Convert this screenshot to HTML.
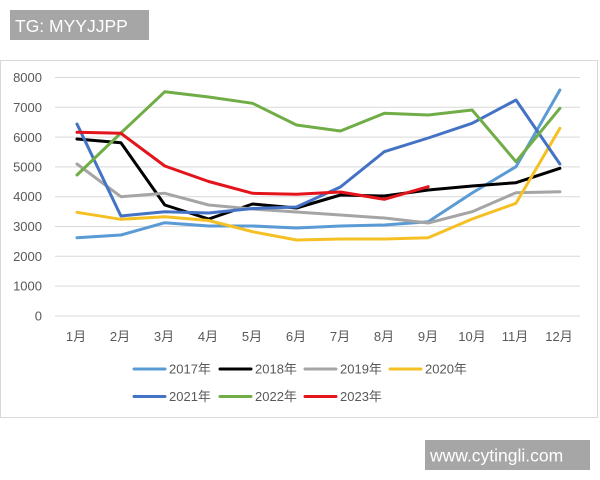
<!DOCTYPE html>
<html><head><meta charset="utf-8"><style>
html,body{margin:0;padding:0;background:#fff;width:600px;height:480px;overflow:hidden;}
svg{display:block;}
text{font-family:"Liberation Sans","Noto Sans CJK SC",sans-serif;}
</style></head><body>
<svg width="600" height="480" viewBox="0 0 600 480" xmlns="http://www.w3.org/2000/svg">
<rect x="0" y="0" width="600" height="480" fill="#fff"/>
<!-- top watermark -->
<rect x="10" y="10" width="139" height="30" fill="#a6a6a6"/>
<text x="15" y="32" font-size="17.5" fill="#fff">TG: MYYJJPP</text>
<!-- chart frame -->
<rect x="0.5" y="60.5" width="597" height="357" fill="#fff" stroke="#d9d9d9" stroke-width="1"/>
<!-- gridlines -->
<g stroke="#d9d9d9" stroke-width="1">
<line x1="55" x2="580" y1="77.5" y2="77.5"/>
<line x1="55" x2="580" y1="107.3" y2="107.3"/>
<line x1="55" x2="580" y1="137.1" y2="137.1"/>
<line x1="55" x2="580" y1="166.9" y2="166.9"/>
<line x1="55" x2="580" y1="196.7" y2="196.7"/>
<line x1="55" x2="580" y1="226.5" y2="226.5"/>
<line x1="55" x2="580" y1="256.3" y2="256.3"/>
<line x1="55" x2="580" y1="286.1" y2="286.1"/>
<line x1="55" x2="580" y1="316" y2="316"/>
</g>
<!-- y labels -->
<g font-size="13" fill="#595959" text-anchor="end">
<text x="42" y="82">8000</text>
<text x="42" y="112">7000</text>
<text x="42" y="142">6000</text>
<text x="42" y="171.5">5000</text>
<text x="42" y="201">4000</text>
<text x="42" y="231">3000</text>
<text x="42" y="261">2000</text>
<text x="42" y="290.5">1000</text>
<text x="42" y="320.5">0</text>
</g>
<!-- x labels -->
<g font-size="13" fill="#595959" text-anchor="middle">
<text x="76" y="341">1月</text>
<text x="120" y="341">2月</text>
<text x="164" y="341">3月</text>
<text x="208" y="341">4月</text>
<text x="252" y="341">5月</text>
<text x="296" y="341">6月</text>
<text x="340" y="341">7月</text>
<text x="384" y="341">8月</text>
<text x="428" y="341">9月</text>
<text x="472" y="341">10月</text>
<text x="515" y="341">11月</text>
<text x="559" y="341">12月</text>
</g>
<!-- series -->
<g fill="none" stroke-width="3" stroke-linejoin="round" stroke-linecap="round">
<polyline stroke="#5b9bd5" points="77,237.7 120.9,235 164.8,222.7 208.7,226 252.6,226 296.5,228 340.4,226 384.3,225 428.2,221.7 472.1,193 516,166.7 559.9,90"/>
<polyline stroke="#000000" points="77,139 120.9,142.7 164.8,205 208.7,219 252.6,204 296.5,208 340.4,195 384.3,196 428.2,190 472.1,186 516,182.7 559.9,168.3"/>
<polyline stroke="#a5a5a5" points="77,164 120.9,196.7 164.8,193.3 208.7,205 252.6,209 296.5,212 340.4,215 384.3,218 428.2,223 472.1,211.7 516,192.7 559.9,191.7"/>
<polyline stroke="#f5c023" points="77,212.3 120.9,219.3 164.8,216.7 208.7,220.5 252.6,231.7 296.5,240 340.4,239 384.3,239 428.2,237.7 472.1,219 516,203.3 559.9,128.3"/>
<polyline stroke="#4472c4" points="77,124 120.9,216 164.8,211.7 208.7,213 252.6,208.5 296.5,207 340.4,187 384.3,151.7 428.2,138 472.1,123.3 516,100 559.9,164"/>
<polyline stroke="#70ad47" points="77,175 120.9,133 164.8,91.7 208.7,97 252.6,103.3 296.5,125 340.4,131 384.3,113.3 428.2,115 472.1,110 516,161.7 559.9,108.3"/>
<polyline stroke="#e3141c" points="77,132.3 120.9,133.3 164.8,166 208.7,181.5 252.6,193.3 296.5,194.3 340.4,192 384.3,199.3 428.2,186.7"/>
</g>
<!-- legend -->
<g stroke-width="3" stroke-linecap="round">
<line x1="134" x2="165" y1="369" y2="369" stroke="#5b9bd5"/>
<line x1="220" x2="251" y1="369" y2="369" stroke="#000000"/>
<line x1="305" x2="336" y1="369" y2="369" stroke="#a5a5a5"/>
<line x1="390" x2="421" y1="369" y2="369" stroke="#f5c023"/>
<line x1="134" x2="165" y1="396.5" y2="396.5" stroke="#4472c4"/>
<line x1="220" x2="251" y1="396.5" y2="396.5" stroke="#70ad47"/>
<line x1="305" x2="336" y1="396.5" y2="396.5" stroke="#e3141c"/>
</g>
<g font-size="13" fill="#595959">
<text x="169" y="373.5">2017年</text>
<text x="255" y="373.5">2018年</text>
<text x="340" y="373.5">2019年</text>
<text x="425" y="373.5">2020年</text>
<text x="169" y="401">2021年</text>
<text x="255" y="401">2022年</text>
<text x="340" y="401">2023年</text>
</g>
<!-- bottom watermark -->
<rect x="425" y="440" width="165" height="30" fill="#a6a6a6"/>
<text x="430" y="461.5" font-size="17.5" fill="#fff">www.cytingli.com</text>
</svg>
</body></html>
